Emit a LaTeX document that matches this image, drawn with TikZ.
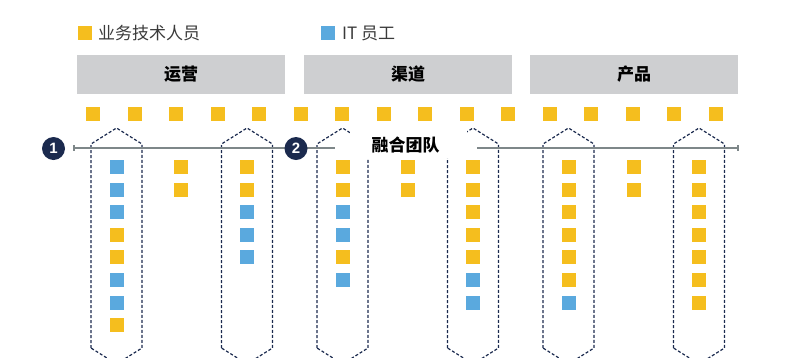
\documentclass[tikz,border=0pt]{standalone}
\usepackage{fontspec}
\setmainfont{Noto Sans CJK SC}
\newfontfamily\latinfont{Liberation Sans}
\usetikzlibrary{arrows.meta}
\definecolor{ylw}{HTML}{F5BE1E}
\definecolor{blu}{HTML}{5AA9DE}
\definecolor{barg}{HTML}{CECFD1}
\definecolor{navy}{HTML}{1B2A4E}
\definecolor{lineg}{HTML}{7E8789}
\definecolor{txtg}{HTML}{3A3A3A}
\tikzset{
  sq/.style={rectangle, minimum size=14, inner sep=0, draw=none},
  ysq/.style={sq, fill=ylw},
  bsq/.style={sq, fill=blu},
  legtext/.style={anchor=west, inner sep=0, text=txtg, font=\fontsize{17}{17}\selectfont},
  bar/.style={rectangle, fill=barg, minimum width=208, minimum height=39, inner sep=0, font=\bfseries\fontsize{17}{17}\selectfont},
  hexcol/.style={draw=navy, line width=1.2pt, dash pattern=on 3pt off 2pt},
  numcirc/.style={circle, fill=navy, minimum size=23, inner sep=0, text=white, font=\latinfont\bfseries\fontsize{15}{15}\selectfont},
  scaleline/.style={draw=lineg, line width=1.5pt},
}
\begin{document}
\begin{tikzpicture}[x=1pt,y=-1pt]
\useasboundingbox (0,0) rectangle (786,357);
% legend
\node[ysq] (legY) at (85,33) {};
\node[legtext] (legYt) at (98,33) {业务技术人员};
\node[bsq] (legB) at (328,33) {};
\node[legtext] (legBt) at (342,33) {IT 员工};
% bars
\node[bar] (bar1) at (181,74.5) {运营};
\node[bar] (bar2) at (408,74.5) {渠道};
\node[bar] (bar3) at (634,74.5) {产品};
% top row
\foreach \i in {0,...,15} {
  \node[ysq] (top\i) at ({93+41.53*\i},113.5) {};
}
% dashed columns
\foreach \cx in {116.5,247,342.5,473,568.5,699} {
  \draw[hexcol] (\cx-25.5,348) -- (\cx-25.5,144) -- (\cx,128) -- (\cx+25.5,144) -- (\cx+25.5,348) -- (\cx,364) -- cycle;
}
% scale line
\coordinate (lA) at (74,148);
\coordinate (lB) at (335,148);
\coordinate (rA) at (477,148);
\coordinate (rB) at (738,148);
\draw[scaleline] (lA) -- (lB);
\draw[scaleline] (rA) -- (rB);
\draw[draw=lineg, line width=1.3pt] (74,145) -- (74,151);
\draw[draw=lineg, line width=1.3pt] (738,145) -- (738,151);
\fill[white] (350,128) rectangle (467,158);
\node[inner sep=0, font=\bfseries\fontsize{17}{17}\selectfont] (team) at (405.5,145.5) {融合团队};
\node[numcirc] (c1) at (53.5,148.5) {1};
\node[numcirc] (c2) at (296,148.5) {2};
% column squares
\foreach \cx/\lst [count=\c] in {116.5/{b,b,b,y,y,b,b,y}, 181/{y,y}, 247/{y,y,b,b,b}, 342.5/{y,y,b,b,y,b}, 408/{y,y}, 473/{y,y,y,y,y,b,b}, 568.5/{y,y,y,y,y,y,b}, 634/{y,y}, 699/{y,y,y,y,y,y,y}} {
  \foreach \t [count=\r from 0] in \lst {
    \node[\t sq] (s\c-\r) at (\cx,{167+22.6*\r}) {};
  }
}
\end{tikzpicture}
\end{document}
